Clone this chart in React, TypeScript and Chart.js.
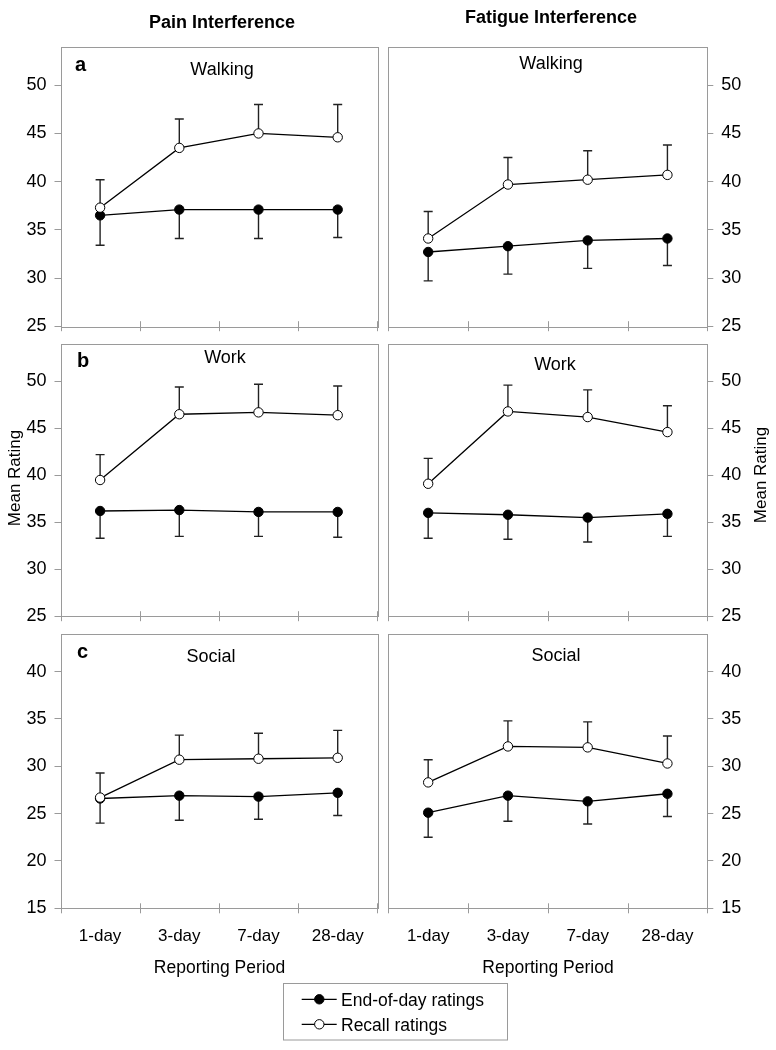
import { useEffect, useRef } from "react";
import { Chart, registerables, type Plugin } from "chart.js";

Chart.register(...registerables);

const FONT = "'Liberation Sans', Arial, Helvetica, sans-serif";
const GRAY = "#9a9a9a";
const BAR = "#222";

// reporting periods (x categories)
const periods = ["1-day", "3-day", "7-day", "28-day"];

// y tick labels
const upperTicks = [25, 30, 35, 40, 45, 50];
const socialTicks = [15, 20, 25, 30, 35, 40];

// pain interference
const painWalkEod = [36.5, 37.1, 37.1, 37.1];
const painWalkEodErr = [3.1, 3.0, 3.0, 2.9];
const painWalkRecall = [37.3, 43.5, 45.0, 44.6];
const painWalkRecallErr = [2.9, 3.0, 3.0, 3.4];

const painWorkEod = [36.2, 36.3, 36.1, 36.1];
const painWorkEodErr = [2.9, 2.8, 2.6, 2.7];
const painWorkRecall = [39.5, 46.5, 46.7, 46.4];
const painWorkRecallErr = [2.7, 2.9, 3.0, 3.1];

const painSocialEod = [26.6, 26.9, 26.8, 27.2];
const painSocialEodErr = [2.6, 2.6, 2.4, 2.4];
const painSocialRecall = [26.7, 30.7, 30.8, 30.9];
const painSocialRecallErr = [2.6, 2.6, 2.7, 2.9];

// fatigue interference
const fatWalkEod = [32.7, 33.3, 33.9, 34.1];
const fatWalkEodErr = [3.0, 2.9, 2.9, 2.8];
const fatWalkRecall = [34.1, 39.7, 40.2, 40.7];
const fatWalkRecallErr = [2.8, 2.8, 3.0, 3.1];

const fatWorkEod = [36.0, 35.8, 35.5, 35.9];
const fatWorkEodErr = [2.7, 2.6, 2.6, 2.4];
const fatWorkRecall = [39.1, 46.8, 46.2, 44.6];
const fatWorkRecallErr = [2.7, 2.8, 2.9, 2.8];

const fatSocialEod = [25.1, 26.9, 26.3, 27.1];
const fatSocialEodErr = [2.6, 2.7, 2.4, 2.4];
const fatSocialRecall = [28.3, 32.1, 32.0, 30.3];
const fatSocialRecallErr = [2.4, 2.7, 2.7, 2.9];

// layout
const W = 776;
const COLS = [
  { left: 60.5, right: 377.3 },
  { left: 388.3, right: 707.3 },
];
const ROWS = [
  { top: 0, height: 345, areaTop: 46.7, areaBottom: 328.3 },
  { top: 325, height: 310, areaTop: 338.3, areaBottom: 618.3 },
  { top: 615, height: 435, areaTop: 630.7, areaBottom: 908.3 },
];

type PanelDef = {
  col: number;
  row: number;
  eod: number[];
  eodErr: number[];
  recall: number[];
  recallErr: number[];
  yMin: number;
  yMax: number;
  yTicks: number[];
  subtitle: string;
  subX: number;
  subY: number;
  letter?: string;
  letterX?: number;
  letterY?: number;
};

const panels: PanelDef[] = [
  { col: 0, row: 0, eod: painWalkEod, eodErr: painWalkEodErr, recall: painWalkRecall, recallErr: painWalkRecallErr,
    yMin: 25, yMax: 54, yTicks: upperTicks, subtitle: "Walking", subX: 222, subY: 75, letter: "a", letterX: 75, letterY: 71 },
  { col: 1, row: 0, eod: fatWalkEod, eodErr: fatWalkEodErr, recall: fatWalkRecall, recallErr: fatWalkRecallErr,
    yMin: 25, yMax: 54, yTicks: upperTicks, subtitle: "Walking", subX: 551, subY: 69 },
  { col: 0, row: 1, eod: painWorkEod, eodErr: painWorkEodErr, recall: painWorkRecall, recallErr: painWorkRecallErr,
    yMin: 25, yMax: 54, yTicks: upperTicks, subtitle: "Work", subX: 225, subY: 363, letter: "b", letterX: 77, letterY: 367 },
  { col: 1, row: 1, eod: fatWorkEod, eodErr: fatWorkEodErr, recall: fatWorkRecall, recallErr: fatWorkRecallErr,
    yMin: 25, yMax: 54, yTicks: upperTicks, subtitle: "Work", subX: 555, subY: 370 },
  { col: 0, row: 2, eod: painSocialEod, eodErr: painSocialEodErr, recall: painSocialRecall, recallErr: painSocialRecallErr,
    yMin: 15, yMax: 44, yTicks: socialTicks, subtitle: "Social", subX: 211, subY: 662, letter: "c", letterX: 77, letterY: 658 },
  { col: 1, row: 2, eod: fatSocialEod, eodErr: fatSocialEodErr, recall: fatSocialRecall, recallErr: fatSocialRecallErr,
    yMin: 15, yMax: 44, yTicks: socialTicks, subtitle: "Social", subX: 556, subY: 661 },
];

function marker(ctx: CanvasRenderingContext2D, x: number, y: number, fill: string) {
  ctx.beginPath();
  ctx.arc(x, y, 4.7, 0, Math.PI * 2);
  ctx.fillStyle = fill;
  ctx.fill();
  ctx.lineWidth = 1;
  ctx.strokeStyle = "#000";
  ctx.stroke();
}

function decor(p: PanelDef): Plugin<"line"> {
  const top = ROWS[p.row].top;
  return {
    id: "panelDecor",
    beforeDatasetsDraw(chart) {
      const { ctx } = chart;
      const yScale = chart.scales.y;
      const sets: [number[], number[], number][] = [
        [p.eod, p.eodErr, -1],
        [p.recall, p.recallErr, 1],
      ];
      ctx.save();
      ctx.strokeStyle = BAR;
      ctx.lineWidth = 1.4;
      sets.forEach(([vals, errs, dir], di) => {
        chart.getDatasetMeta(di).data.forEach((pt, j) => {
          const x = pt.x;
          const y1 = yScale.getPixelForValue(vals[j] + dir * errs[j]);
          ctx.beginPath();
          ctx.moveTo(x, pt.y);
          ctx.lineTo(x, y1);
          ctx.moveTo(x - 4.5, y1);
          ctx.lineTo(x + 4.5, y1);
          ctx.stroke();
        });
      });
      ctx.restore();
    },
    afterDraw(chart) {
      const { ctx, chartArea: a } = chart;
      const xScale = chart.scales.x;
      ctx.save();
      // frame
      ctx.strokeStyle = GRAY;
      ctx.lineWidth = 1;
      ctx.strokeRect(Math.round(a.left) + 0.5, Math.round(a.top) + 0.5, Math.round(a.right - a.left), Math.round(a.bottom - a.top));
      // category boundary ticks
      for (let i = 0; i <= periods.length; i++) {
        const x = Math.round(xScale.getPixelForValue(i - 0.5)) + 0.5;
        ctx.beginPath();
        ctx.moveTo(x, a.bottom - 5);
        ctx.lineTo(x, a.bottom + 5);
        ctx.stroke();
      }

      ctx.fillStyle = "#000";
      ctx.textBaseline = "alphabetic";
      if (p.letter) {
        ctx.font = `bold 20px ${FONT}`;
        ctx.textAlign = "left";
        ctx.fillText(p.letter, p.letterX!, p.letterY! - top);
      }
      ctx.font = `18px ${FONT}`;
      ctx.textAlign = "center";
      ctx.fillText(p.subtitle, p.subX, p.subY - top);

      if (p.row === 0) {
        ctx.font = `bold 18px ${FONT}`;
        if (p.col === 0) ctx.fillText("Pain Interference", 222, 27.5 - top);
        else ctx.fillText("Fatigue Interference", 551, 22.5 - top);
      }
      if (p.row === 1) {
        ctx.font = `17px ${FONT}`;
        ctx.save();
        if (p.col === 0) ctx.translate(19.5, 478 - top);
        else ctx.translate(766, 475 - top);
        ctx.rotate(-Math.PI / 2);
        ctx.fillText("Mean Rating", 0, 0);
        ctx.restore();
      }
      if (p.row === 2) {
        ctx.font = `17.5px ${FONT}`;
        ctx.fillText("Reporting Period", p.col === 0 ? 219.5 : 548, 972.5 - top);
        if (p.col === 0) {
          // shared legend
          ctx.strokeStyle = GRAY;
          ctx.strokeRect(283.5, 983.5 - top, 224, 56.5);
          const names = chart.data.datasets.map((d) => d.label as string);
          const fills = ["#000", "#fff"];
          const ys = [999.3, 1024.3];
          ys.forEach((cy, i) => {
            const y = cy - top;
            ctx.strokeStyle = "#000";
            ctx.lineWidth = 1.2;
            ctx.beginPath();
            ctx.moveTo(301.7, y);
            ctx.lineTo(336.7, y);
            ctx.stroke();
            marker(ctx, 319.3, y, fills[i]);
            ctx.fillStyle = "#000";
            ctx.textAlign = "left";
            ctx.font = `17.5px ${FONT}`;
            ctx.fillText(names[i], 341, y + 6.3);
          });
        }
      }
      ctx.restore();
    },
  };
}

function Panel({ p }: { p: PanelDef }) {
  const ref = useRef<HTMLCanvasElement>(null);
  const row = ROWS[p.row];
  const col = COLS[p.col];

  useEffect(() => {
    const canvas = ref.current;
    if (!canvas) return;
    const isLeft = p.col === 0;
    const showX = p.row === 2;
    const xH = showX ? 40 : 0;
    const yW = isLeft ? col.left : W - col.right;

    Chart.defaults.font.family = FONT;
    Chart.defaults.font.size = 17;
    Chart.defaults.color = "#000";

    const line = {
      borderColor: "#000",
      borderWidth: 1.3,
      pointRadius: 4.7,
      pointBorderColor: "#000",
      pointBorderWidth: 1,
      tension: 0,
    };

    const chart = new Chart(canvas, {
      type: "line",
      data: {
        labels: periods,
        datasets: [
          { ...line, label: "End-of-day ratings", data: p.eod, order: 1, pointBackgroundColor: "#000" },
          { ...line, label: "Recall ratings", data: p.recall, order: 0, pointBackgroundColor: "#fff" },
        ],
      },
      options: {
        responsive: false,
        animation: false,
        events: [],
        layout: {
          padding: {
            left: isLeft ? 0 : col.left,
            right: isLeft ? W - col.right : 0,
            top: row.areaTop - row.top,
            bottom: row.top + row.height - row.areaBottom - xH,
          },
        },
        plugins: { legend: { display: false }, tooltip: { enabled: false } },
        scales: {
          x: {
            type: "category",
            offset: true,
            grid: { display: false, drawTicks: false },
            border: { display: false },
            ticks: { display: showX, autoSkip: false, maxRotation: 0, padding: 18, color: "#000", font: { size: 17 } },
            afterFit: (s) => {
              s.height = xH;
            },
          },
          y: {
            position: isLeft ? "left" : "right",
            min: p.yMin,
            max: p.yMax,
            afterBuildTicks: (s) => {
              s.ticks = p.yTicks.map((v) => ({ value: v }));
            },
            grid: { drawOnChartArea: false, drawTicks: true, tickLength: 6, color: GRAY },
            border: { display: false },
            ticks: { padding: 8, color: "#000", font: { size: 18 } },
            afterFit: (s) => {
              s.width = yW;
            },
          },
        },
      },
      plugins: [decor(p)],
    });

    return () => chart.destroy();
  }, [p]);

  return (
    <canvas
      ref={ref}
      width={W}
      height={row.height}
      style={{ position: "absolute", left: 0, top: row.top, width: W, height: row.height }}
    />
  );
}

export default function App() {
  return (
    <div style={{ position: "absolute", left: 0, top: 0, width: W, height: 1050, background: "#fff", overflow: "hidden" }}>
      {panels.map((p, i) => (
        <Panel key={i} p={p} />
      ))}
    </div>
  );
}
